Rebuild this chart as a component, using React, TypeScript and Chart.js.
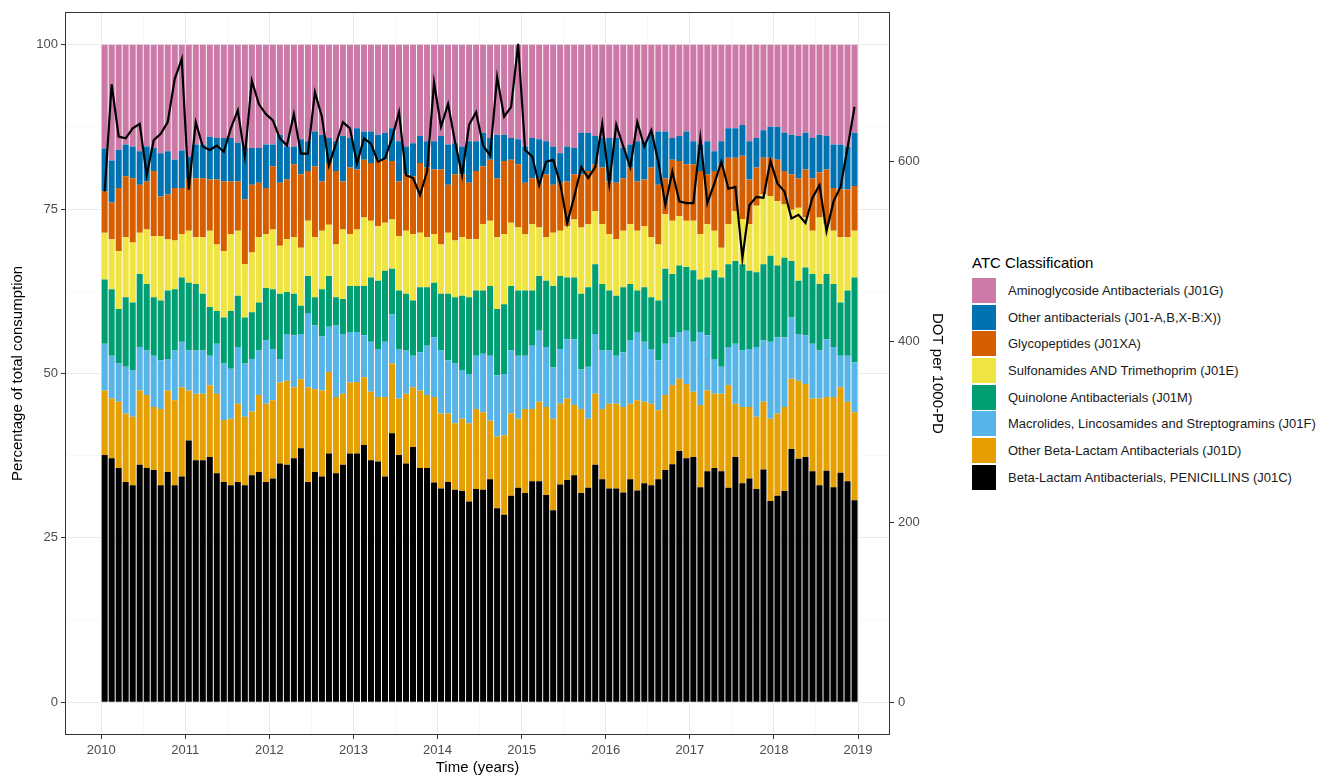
import React, { useEffect, useRef } from "react";
import { Chart, registerables } from "chart.js";

Chart.register(...registerables);

// ---------------- DATA ----------------
const years = [2010, 2011, 2012, 2013, 2014, 2015, 2016, 2017, 2018];
const monthNumbers = [1, 2, 3, 4, 5, 6, 7, 8, 9, 10, 11, 12];
const months: string[] = years.flatMap((y) =>
  monthNumbers.map((m) => `${y}-${String(m).padStart(2, "0")}`)
);

const xTickYears = [2010, 2011, 2012, 2013, 2014, 2015, 2016, 2017, 2018, 2019];
const xMinorTicks = [2010.5, 2011.5, 2012.5, 2013.5, 2014.5, 2015.5, 2016.5, 2017.5, 2018.5];
const yTickValues = [0, 25, 50, 75, 100];
const yMinorTicks = [12.5, 37.5, 62.5, 87.5];
const y2TickValues = [0, 200, 400, 600];

// Percentage of total consumption per ATC class
const penicillins = [
  37.6, 37.1, 35.6, 33.5, 33.0, 36.1, 35.6, 35.3, 33.0, 35.0, 33.0, 34.3, 39.8, 36.8, 36.8, 37.3, 34.8, 33.5,
  33.0, 33.5, 33.0, 34.5, 35.0, 33.5, 34.0, 36.3, 36.1, 37.1, 38.6, 33.5, 35.0, 34.3, 37.8, 34.8, 36.1, 37.8,
  37.8, 39.1, 36.8, 36.6, 34.3, 40.9, 37.6, 36.3, 38.8, 35.6, 35.6, 33.4, 32.5, 33.5, 32.3, 32.1, 30.5, 32.4,
  32.3, 33.9, 29.5, 28.5, 31.4, 32.6, 31.8, 33.6, 33.6, 31.5, 29.2, 33.1, 33.8, 34.5, 31.8, 32.6, 36.1, 33.9,
  32.5, 32.5, 31.9, 33.9, 32.2, 33.3, 33.0, 33.9, 35.3, 36.2, 38.2, 37.1, 37.3, 32.7, 35.1, 35.6, 35.1, 32.6,
  37.3, 33.3, 34.0, 32.4, 35.4, 30.6, 31.4, 32.1, 38.5, 37.0, 37.3, 35.1, 33.0, 35.2, 32.7, 34.9, 33.6, 30.7,
];
const otherBetaLactam = [
  9.8, 9.1, 10.1, 10.4, 10.4, 11.3, 11.1, 9.6, 11.6, 12.4, 12.9, 13.6, 7.6, 10.1, 10.1, 10.9, 12.1, 9.4,
  10.1, 11.9, 10.4, 9.7, 11.7, 11.9, 11.9, 12.3, 12.8, 10.8, 10.5, 14.4, 12.6, 13.1, 12.4, 11.6, 10.8, 10.8,
  10.9, 10.3, 10.4, 9.8, 12.1, 10.6, 8.6, 10.6, 9.1, 11.8, 11.1, 13.0, 11.4, 10.4, 10.1, 11.0, 11.9, 12.2,
  11.8, 8.9, 10.9, 12.1, 12.5, 10.5, 12.8, 11.0, 12.1, 13.4, 13.9, 12.3, 12.4, 10.7, 12.8, 10.5, 10.8, 10.7,
  12.9, 12.9, 13.0, 11.5, 13.7, 12.4, 12.4, 10.5, 11.4, 12.0, 11.0, 11.3, 9.9, 12.5, 12.3, 11.3, 11.8, 15.6,
  8.1, 11.6, 10.9, 11.0, 10.3, 12.5, 12.5, 12.8, 10.7, 11.9, 11.1, 11.1, 13.2, 11.2, 13.7, 13.0, 12.1, 13.4,
];
const macrolides = [
  7.1, 6.5, 5.8, 7.1, 7.1, 6.6, 6.8, 7.8, 7.4, 4.8, 7.6, 6.9, 6.1, 6.6, 6.6, 4.5, 7.6, 8.6,
  7.6, 8.6, 8.1, 8.0, 6.8, 9.6, 7.8, 3.6, 7.1, 7.9, 6.9, 11.3, 9.7, 8.2, 6.9, 10.9, 9.1, 7.7,
  7.6, 6.4, 7.6, 7.3, 8.4, 7.5, 7.5, 6.6, 4.8, 5.8, 7.5, 9.1, 9.6, 8.1, 9.1, 7.4, 7.5, 8.1,
  8.9, 9.9, 9.3, 9.3, 9.6, 9.6, 8.1, 9.6, 10.8, 9.1, 7.8, 8.3, 9.0, 10.0, 6.0, 7.9, 9.1, 8.9,
  8.1, 7.3, 8.3, 9.6, 10.4, 9.1, 8.3, 7.6, 7.8, 7.3, 7.1, 8.1, 7.6, 11.1, 8.4, 5.3, 4.1, 5.8,
  9.1, 8.6, 8.8, 10.6, 9.3, 11.7, 11.6, 10.6, 9.3, 7.1, 7.4, 8.3, 7.3, 8.8, 7.6, 4.8, 7.0, 7.6,
];
const quinolones = [
  9.8, 10.1, 8.3, 10.6, 10.3, 11.1, 10.1, 8.9, 9.1, 10.4, 9.3, 9.8, 10.3, 10.1, 8.6, 7.4, 5.0, 7.0,
  8.8, 7.8, 7.0, 7.1, 7.3, 8.0, 9.1, 9.9, 6.4, 6.3, 4.3, 5.6, 4.3, 7.2, 7.7, 4.3, 5.3, 7.0,
  7.0, 7.5, 9.8, 10.4, 10.8, 6.9, 8.9, 8.6, 8.4, 9.9, 8.9, 8.3, 8.6, 10.1, 10.1, 11.3, 11.7, 9.9,
  9.6, 10.6, 10.1, 10.6, 9.8, 9.9, 9.9, 8.4, 8.3, 10.1, 12.4, 11.1, 9.4, 9.4, 11.5, 12.1, 10.6, 10.1,
  9.1, 9.1, 9.9, 8.6, 6.3, 8.3, 7.9, 9.1, 11.4, 9.6, 10.1, 9.7, 10.9, 8.0, 8.8, 13.5, 13.6, 12.6,
  12.6, 13.1, 11.9, 11.4, 11.6, 13.1, 10.9, 12.1, 8.6, 8.1, 10.3, 10.6, 10.1, 9.9, 9.6, 8.1, 9.9, 12.9,
];
const sulfonamides = [
  7.1, 7.6, 8.8, 9.1, 9.1, 6.3, 8.3, 9.3, 9.8, 7.8, 7.4, 6.6, 7.9, 7.1, 8.6, 11.6, 10.1, 10.1,
  11.7, 9.9, 8.1, 9.1, 9.9, 8.2, 9.1, 7.3, 8.0, 8.6, 8.8, 8.4, 9.1, 8.9, 7.8, 8.0, 10.6, 7.9,
  8.6, 10.4, 8.6, 8.3, 7.3, 7.5, 8.3, 9.6, 10.1, 8.3, 7.6, 7.4, 7.5, 9.3, 8.6, 8.9, 8.8, 7.8,
  10.1, 9.9, 10.9, 10.7, 9.6, 9.6, 8.6, 10.1, 7.4, 6.6, 8.1, 6.9, 7.8, 8.8, 10.1, 9.6, 8.1, 9.1,
  8.6, 8.6, 8.6, 9.1, 9.1, 9.3, 9.1, 8.5, 8.3, 8.1, 7.5, 7.0, 7.5, 6.9, 8.1, 6.0, 4.5, 6.1,
  7.6, 6.9, 7.1, 10.1, 10.6, 9.1, 9.8, 8.1, 7.8, 11.1, 7.6, 6.6, 10.1, 7.6, 8.1, 9.9, 8.1, 7.1,
];
const glycopeptides = [
  6.3, 5.6, 9.6, 9.3, 9.8, 7.3, 7.3, 9.9, 6.0, 6.8, 8.0, 7.0, 8.0, 9.0, 9.0, 7.8, 9.9, 10.6,
  8.0, 7.5, 9.9, 10.3, 8.3, 7.0, 9.6, 9.6, 9.1, 11.1, 11.2, 7.6, 10.8, 7.5, 9.4, 11.2, 7.3, 10.1,
  9.1, 8.8, 8.8, 10.1, 9.6, 8.9, 8.3, 8.6, 8.8, 10.6, 10.6, 9.8, 11.4, 7.3, 10.1, 9.6, 8.6, 10.4,
  8.8, 9.3, 9.0, 11.1, 9.6, 9.6, 7.8, 7.0, 7.5, 9.6, 7.3, 7.3, 6.8, 6.9, 8.1, 8.1, 7.1, 8.6,
  8.0, 8.6, 8.0, 8.6, 7.5, 7.1, 10.6, 9.1, 5.5, 9.3, 8.4, 8.6, 8.6, 9.6, 7.6, 9.1, 12.7, 10.1,
  8.1, 9.6, 6.8, 5.8, 5.6, 5.8, 6.3, 5.1, 5.4, 4.5, 7.3, 8.0, 6.9, 8.3, 6.5, 7.3, 7.3, 6.8,
];
const otherAntibacterials = [
  6.5, 6.4, 5.8, 4.8, 4.8, 5.1, 5.3, 3.5, 6.6, 6.6, 4.3, 5.7, 3.3, 5.1, 5.1, 6.5, 6.3, 6.6,
  6.6, 5.9, 7.8, 5.6, 5.3, 6.6, 3.3, 7.3, 5.0, 2.7, 5.3, 4.5, 5.3, 7.1, 3.8, 4.5, 6.9, 4.5,
  6.3, 4.3, 4.8, 3.8, 4.1, 5.0, 6.1, 4.2, 5.0, 4.1, 4.0, 4.3, 5.1, 6.1, 4.7, 4.2, 6.3, 4.5,
  5.1, 3.3, 6.6, 4.0, 3.3, 3.8, 5.5, 6.1, 5.9, 5.0, 5.8, 4.5, 5.3, 4.0, 6.3, 5.8, 4.3, 4.5,
  6.6, 6.8, 4.6, 3.5, 6.1, 5.8, 5.0, 8.1, 7.1, 3.3, 3.8, 5.0, 3.5, 4.0, 5.0, 3.0, 3.5, 4.5,
  4.5, 4.7, 5.8, 4.5, 4.2, 4.7, 5.0, 5.8, 6.0, 6.4, 5.6, 6.1, 5.7, 5.1, 6.6, 6.8, 6.5, 8.1,
];
const aminoglycosides = [
  15.8, 17.6, 16.0, 15.2, 15.5, 16.2, 15.5, 15.7, 16.5, 16.2, 17.5, 16.1, 17.0, 15.2, 15.2, 14.0, 14.2, 14.2,
  14.2, 14.9, 15.7, 15.7, 15.7, 15.2, 15.2, 13.7, 15.5, 15.5, 14.4, 14.7, 13.2, 13.7, 14.2, 14.7, 13.9, 14.2,
  12.7, 13.2, 13.2, 13.7, 13.4, 12.7, 14.7, 15.5, 15.0, 13.9, 14.7, 14.7, 13.9, 15.2, 15.0, 15.5, 14.7, 14.7,
  13.4, 14.2, 13.7, 13.7, 14.2, 14.4, 15.5, 14.2, 14.4, 14.7, 15.5, 16.5, 15.5, 15.7, 13.4, 13.4, 13.9, 14.2,
  14.2, 14.2, 15.7, 15.2, 14.7, 14.7, 13.7, 13.2, 13.2, 14.2, 13.9, 13.2, 14.7, 15.2, 14.7, 16.2, 14.7, 12.7,
  12.7, 12.2, 14.7, 14.2, 13.0, 12.5, 12.5, 13.4, 13.7, 13.9, 13.4, 14.2, 13.7, 13.9, 15.2, 15.2, 15.5, 13.4,
];

// Days of therapy per 1000 patient-days (secondary axis)
const dotPer1000PD = [
  567, 686, 628, 626, 637, 642, 585, 624, 631, 644, 692, 714, 569, 644, 617, 613, 618, 611,
  637, 657, 606, 690, 664, 653, 646, 626, 618, 653, 609, 609, 677, 650, 596, 620, 644, 637,
  598, 626, 620, 600, 604, 626, 655, 585, 582, 563, 589, 688, 639, 664, 622, 585, 641, 655,
  618, 607, 694, 650, 661, 731, 613, 606, 574, 600, 602, 576, 532, 561, 594, 582, 594, 642,
  576, 641, 617, 594, 644, 617, 635, 600, 552, 589, 556, 554, 554, 626, 554, 576, 600, 570,
  572, 493, 552, 561, 560, 601, 576, 567, 537, 541, 532, 560, 574, 523, 556, 572, 615, 661,
];

// secondary axis = percentage * this factor
const dotPerPercent = 7.3;

// stacking order bottom -> top
const seriesDefs = [
  { label: "Beta-Lactam Antibacterials, PENICILLINS (J01C)", data: penicillins, color: "#000000" },
  { label: "Other Beta-Lactam Antibacterials (J01D)", data: otherBetaLactam, color: "#E69F00" },
  { label: "Macrolides, Lincosamides and Streptogramins (J01F)", data: macrolides, color: "#56B4E9" },
  { label: "Quinolone Antibacterials (J01M)", data: quinolones, color: "#009E73" },
  { label: "Sulfonamides AND Trimethoprim (J01E)", data: sulfonamides, color: "#F0E442" },
  { label: "Glycopeptides (J01XA)", data: glycopeptides, color: "#D55E00" },
  { label: "Other antibacterials (J01-A,B,X-B:X))", data: otherAntibacterials, color: "#0072B2" },
  { label: "Aminoglycoside Antibacterials (J01G)", data: aminoglycosides, color: "#CC79A7" },
];

// ---------------- CHART ----------------
const FONT = "'Liberation Sans', Arial, Helvetica, sans-serif";

function monthToYear(m: string): number {
  const [y, mo] = m.split("-").map(Number);
  return y + (mo - 0.5) / 12;
}

const panelBorder = {
  id: "panelBorder",
  afterDraw(chart: any) {
    const { ctx, chartArea } = chart;
    ctx.save();
    ctx.strokeStyle = "#333333";
    ctx.lineWidth = 1;
    ctx.strokeRect(
      Math.round(chartArea.left) + 0.5,
      Math.round(chartArea.top) + 0.5,
      Math.round(chartArea.right - chartArea.left) - 1,
      Math.round(chartArea.bottom - chartArea.top) - 1
    );
    ctx.restore();
  },
};

export default function App() {
  const canvasRef = useRef<HTMLCanvasElement | null>(null);

  useEffect(() => {
    document.body.style.margin = "0";
    const canvas = canvasRef.current;
    if (!canvas) return;

    const xs = months.map(monthToYear);

    const barDatasets = seriesDefs.map((s) => ({
      type: "bar" as const,
      label: s.label,
      data: s.data.map((v, i) => ({ x: xs[i], y: v })),
      backgroundColor: s.color,
      borderWidth: 0,
      barPercentage: 0.86,
      categoryPercentage: 1,
      yAxisID: "y",
      stack: "atc",
      order: 1,
    }));

    const lineDataset = {
      type: "line" as const,
      label: "DOT per 1000-PD",
      data: dotPer1000PD.map((v, i) => ({ x: xs[i], y: v })),
      borderColor: "#000000",
      borderWidth: 2.2,
      pointRadius: 0,
      tension: 0,
      fill: false,
      yAxisID: "y2",
      stack: "line",
      order: 0,
    };

    const isMajorX = (v: number) => xTickYears.includes(v);
    const isMajorY = (v: number) => yTickValues.includes(v);

    const chart = new Chart(canvas, {
      type: "bar",
      data: { datasets: [...barDatasets, lineDataset] as any },
      options: {
        responsive: false,
        animation: false,
        devicePixelRatio: 1,
        layout: { padding: { top: 10, right: 0, bottom: 0, left: 0 } },
        plugins: {
          legend: { display: false },
          tooltip: { enabled: false },
        },
        scales: {
          x: {
            type: "linear",
            stacked: true,
            offset: false,
            min: 2009.57,
            max: 2019.38,
            border: { display: false },
            afterBuildTicks: (scale: any) => {
              scale.ticks = [...xTickYears, ...xMinorTicks]
                .sort((a, b) => a - b)
                .map((v) => ({ value: v }));
            },
            grid: {
              offset: false,
              color: (ctx: any) => (ctx.tick && isMajorX(ctx.tick.value) ? "#EBEBEB" : "#F3F3F3"),
              lineWidth: (ctx: any) => (ctx.tick && isMajorX(ctx.tick.value) ? 1 : 0.6),
              tickColor: (ctx: any) => (ctx.tick && isMajorX(ctx.tick.value) ? "#333333" : "rgba(0,0,0,0)"),
              tickLength: 4,
            },
            ticks: {
              autoSkip: false,
              maxRotation: 0,
              padding: 4,
              color: "#4D4D4D",
              font: { family: FONT, size: 13 },
              callback: (v: any) => (isMajorX(Number(v)) ? String(v) : ""),
            },
            title: {
              display: true,
              text: "Time (years)",
              color: "#000000",
              font: { family: FONT, size: 15 },
              padding: 0,
            },
            afterFit: (scale: any) => {
              scale.height = 42;
            },
          } as any,
          y: {
            type: "linear",
            position: "left",
            stacked: true,
            min: -5,
            max: 105,
            border: { display: false },
            afterBuildTicks: (scale: any) => {
              scale.ticks = [...yTickValues, ...yMinorTicks]
                .sort((a, b) => a - b)
                .map((v) => ({ value: v }));
            },
            grid: {
              color: (ctx: any) => (ctx.tick && isMajorY(ctx.tick.value) ? "#EBEBEB" : "#F3F3F3"),
              lineWidth: (ctx: any) => (ctx.tick && isMajorY(ctx.tick.value) ? 1 : 0.6),
              tickColor: (ctx: any) => (ctx.tick && isMajorY(ctx.tick.value) ? "#333333" : "rgba(0,0,0,0)"),
              tickLength: 4,
            },
            ticks: {
              autoSkip: false,
              padding: 3,
              color: "#4D4D4D",
              font: { family: FONT, size: 13 },
              callback: (v: any) => (isMajorY(Number(v)) ? String(v) : ""),
            },
            title: {
              display: true,
              text: "Percentage of total consumption",
              color: "#000000",
              font: { family: FONT, size: 15 },
              padding: { top: 9, bottom: 0 },
            },
            afterFit: (scale: any) => {
              scale.width = 65;
            },
          } as any,
          y2: {
            type: "linear",
            position: "right",
            stacked: false,
            min: -5 * dotPerPercent,
            max: 105 * dotPerPercent,
            border: { display: false },
            afterBuildTicks: (scale: any) => {
              scale.ticks = y2TickValues.map((v) => ({ value: v }));
            },
            grid: {
              drawOnChartArea: false,
              tickColor: "#333333",
              tickLength: 4,
            },
            ticks: {
              autoSkip: false,
              padding: 4,
              color: "#4D4D4D",
              font: { family: FONT, size: 13 },
              callback: (v: any) => String(v),
            },
            title: {
              display: true,
              text: "DOT per 1000-PD",
              color: "#000000",
              font: { family: FONT, size: 15 },
              padding: { top: 14, bottom: 0 },
            },
            afterFit: (scale: any) => {
              scale.width = 70;
            },
          } as any,
        },
      },
      plugins: [panelBorder],
    });

    return () => {
      chart.destroy();
    };
  }, []);

  const legendItems = [...seriesDefs].reverse();

  return (
    <div style={{ position: "relative", width: 1343, height: 777, background: "#ffffff", overflow: "hidden" }}>
      <canvas
        ref={canvasRef}
        width={960}
        height={777}
        style={{ position: "absolute", left: 0, top: 0, width: 960, height: 777 }}
      />
      <div style={{ position: "absolute", left: 972, top: 253, fontFamily: FONT, color: "#000000" }}>
        <div style={{ fontSize: 15, lineHeight: "20px", height: 20, whiteSpace: "nowrap" }}>ATC Classification</div>
        <div style={{ marginTop: 5 }}>
          {legendItems.map((s) => (
            <div key={s.label} style={{ position: "relative", height: 26.7, whiteSpace: "nowrap" }}>
              <div
                style={{ position: "absolute", left: 0, top: 0, width: 24, height: 25, background: s.color }}
              />
              <div
                style={{
                  position: "absolute",
                  left: 36,
                  top: 0,
                  height: 25,
                  lineHeight: "25px",
                  fontSize: 13,
                  color: "#1A1A1A",
                }}
              >
                {s.label}
              </div>
            </div>
          ))}
        </div>
      </div>
    </div>
  );
}
